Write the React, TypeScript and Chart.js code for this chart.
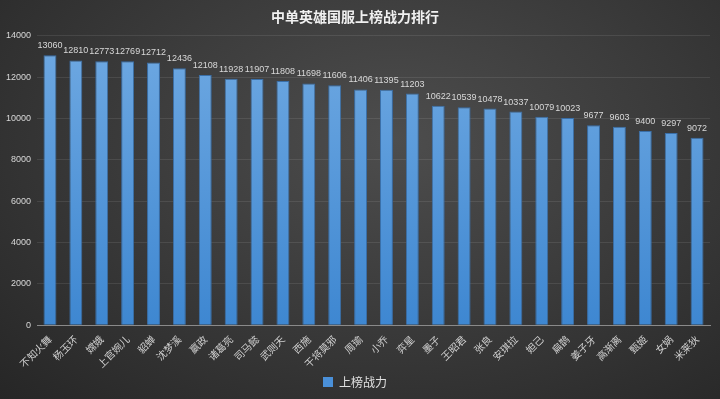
import React, { useEffect, useRef } from "react";
import { Chart, registerables } from "chart.js";

Chart.register(...registerables);

const categories = ["不知火舞", "杨玉环", "嫦娥", "上官婉儿", "貂蝉", "沈梦溪", "嬴政", "诸葛亮", "司马懿", "武则天", "西施", "干将莫邪", "周瑜", "小乔", "弈星", "墨子", "王昭君", "张良", "安琪拉", "妲己", "扁鹊", "姜子牙", "高渐离", "甄姬", "女娲", "米莱狄"];
const power = [13060, 12810, 12773, 12769, 12712, 12436, 12108, 11928, 11907, 11808, 11698, 11606, 11406, 11395, 11203, 10622, 10539, 10478, 10337, 10079, 10023, 9677, 9603, 9400, 9297, 9072];
const seriesName = "上榜战力";
const titleText = "中单英雄国服上榜战力排行";

const FONT = "'Noto Sans CJK SC', 'Liberation Sans', sans-serif";
const NUMFONT = "'Liberation Sans', Arial, sans-serif";

const valueLabels = {
  id: "valueLabels",
  afterDatasetsDraw(chart: any) {
    const ctx = chart.ctx;
    const meta = chart.getDatasetMeta(0);
    ctx.save();
    ctx.fillStyle = "#d8d8d8";
    ctx.font = `9px ${NUMFONT}`;
    ctx.textAlign = "center";
    ctx.textBaseline = "bottom";
    meta.data.forEach((bar: any, i: number) => {
      ctx.fillText(String(power[i]), bar.x, bar.y - 5);
    });
    ctx.restore();
  },
};

export default function App() {
  const ref = useRef<HTMLCanvasElement>(null);
  useEffect(() => {
    document.body.style.margin = "0";
    const chart = new Chart(ref.current!, {
      type: "bar",
      data: {
        labels: categories,
        datasets: [
          {
            label: seriesName,
            data: power,
            backgroundColor: (c: any) => {
              const { chart } = c;
              const area = chart.chartArea;
              if (!area) return "#5b9bd5";
              const g = chart.ctx.createLinearGradient(0, area.top, 0, area.bottom);
              g.addColorStop(0, "#6fa9e2");
              g.addColorStop(1, "#3e87d1");
              return g;
            },
            borderColor: "#3a6fa8",
            borderWidth: 1,
            categoryPercentage: 1,
            barPercentage: 0.5,
          },
        ],
      },
      options: {
        animation: false,
        responsive: false,
        maintainAspectRatio: false,
        layout: { padding: { left: 0, right: 10, top: 0, bottom: 1 } },
        plugins: {
          title: {
            display: true,
            text: titleText,
            color: "#f0f0f0",
            font: { family: FONT, size: 14, weight: "bold" },
            padding: { top: 8, bottom: 11 },
          },
          legend: {
            display: true,
            position: "bottom",
            labels: {
              color: "#e0e0e0",
              boxWidth: 10,
              boxHeight: 10,
              font: { family: FONT, size: 12 },
              padding: 6,
              generateLabels: () => [
                {
                  text: seriesName,
                  fillStyle: "#4a90d9",
                  strokeStyle: "#4a90d9",
                  lineWidth: 0,
                  fontColor: "#e0e0e0",
                  datasetIndex: 0,
                } as any,
              ],
            },
          },
          tooltip: { enabled: false },
        },
        scales: {
          x: {
            grid: { display: false },
            border: { color: "#8a8a8a", width: 1 },
            ticks: {
              color: "#d0d0d0",
              font: { family: FONT, size: 10 },
              minRotation: 45,
              maxRotation: 45,
              autoSkip: false,
              padding: 0,
            },
          },
          y: {
            min: 0,
            max: 14000,
            grid: { color: "rgba(255,255,255,0.09)", drawTicks: false },
            border: { display: false },
            ticks: {
              stepSize: 2000,
              color: "#d8d8d8",
              font: { family: NUMFONT, size: 9 },
              padding: 6,
              callback: (v: any) => String(v),
            },
          },
        },
      },
      plugins: [valueLabels],
    } as any);
    return () => chart.destroy();
  }, []);
  return (
    <div
      style={{
        position: "absolute",
        left: 0,
        top: 0,
        width: 720,
        height: 399,
        background: "radial-gradient(ellipse at 55% 35%, #4d4d4d 0%, #3c3c3c 45%, #262626 100%)",
      }}
    >
      <canvas ref={ref} width={720} height={399} />
    </div>
  );
}
